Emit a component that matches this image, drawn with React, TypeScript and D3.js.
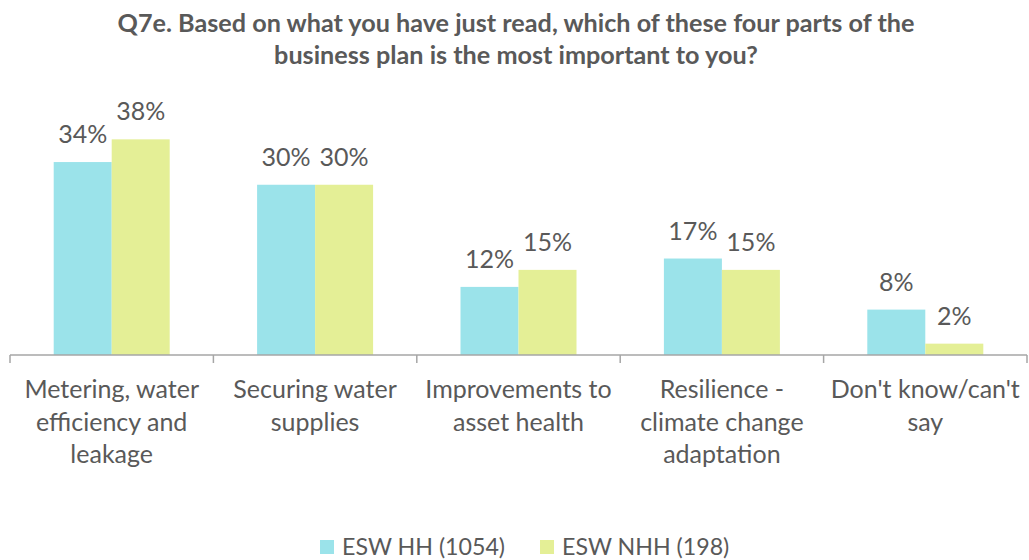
import React from "react";
import * as d3 from "d3";

const categories: string[][] = [
  ["Metering, water", "efficiency and", "leakage"],
  ["Securing water", "supplies"],
  ["Improvements to", "asset health"],
  ["Resilience -", "climate change", "adaptation"],
  ["Don't know/can't", "say"],
];
const seriesNames = ["ESW HH (1054)", "ESW NHH (198)"];
const hhValues = [34, 30, 12, 17, 8];
const nhhValues = [38, 30, 15, 15, 2];
const colors = ["#9BE3EA", "#E4EF96"];
const titleLines = [
  "Q7e. Based on what you have just read, which of these four parts of the",
  "business plan is the most important to you?",
];

const W = 1029;
const H = 560;
const FONT = "Lato, 'Open Sans', sans-serif";
const TEXT = "#595959";
const FS = 25;

export default function App() {
  const left = 10;
  const right = 1027;
  const baseY = 355;
  const x0 = d3.scaleBand<number>().domain(d3.range(categories.length)).range([left, right]).paddingInner(0).paddingOuter(0);
  const x1 = d3.scaleBand<number>().domain([0, 1]).range([0, 116]);
  const y = d3.scaleLinear().domain([0, 40]).range([baseY, baseY - 227]);
  const series = [hhValues, nhhValues];
  const bw = x0.bandwidth();

  return (
    <svg width={W} height={H} style={{ position: "absolute", left: 0, top: 0, background: "#fff" }} fontFamily={FONT}>
      {titleLines.map((t, i) => (
        <text key={i} x={516} y={32 + i * 32} textAnchor="middle" fontWeight="bold" fontSize={25.2} fill={TEXT}>
          {t}
        </text>
      ))}
      {categories.map((_, ci) => {
        const cx = (x0(ci) as number) + bw / 2;
        const start = cx - 58;
        return series.map((vals, si) => {
          const bx = start + (x1(si) as number);
          const v = vals[ci];
          return (
            <g key={`${ci}-${si}`}>
              <rect x={bx} y={y(v)} width={x1.bandwidth()} height={baseY - y(v)} fill={colors[si]} />
              <text x={bx + x1.bandwidth() / 2} y={y(v) - 19} textAnchor="middle" fontSize={FS} fill={TEXT}>
                {v}%
              </text>
            </g>
          );
        });
      })}
      <line x1={left} x2={right} y1={baseY} y2={baseY} stroke="#A6A6A6" strokeWidth={1.5} />
      {d3.range(categories.length + 1).map((i) => {
        const tx = i === categories.length ? right : (x0(i) as number);
        return <line key={i} x1={tx} x2={tx} y1={baseY} y2={baseY + 8} stroke="#A6A6A6" strokeWidth={1.5} />;
      })}
      {categories.map((lines, ci) => {
        const cx = (x0(ci) as number) + bw / 2;
        return (
          <text key={ci} textAnchor="middle" fontSize={FS} fill={TEXT}>
            {lines.map((l, li) => (
              <tspan key={li} x={cx} y={398 + li * 32.5}>
                {l}
              </tspan>
            ))}
          </text>
        );
      })}
      {seriesNames.map((n, i) => {
        const lx = [320, 540][i];
        return (
          <g key={n}>
            <rect x={lx} y={540} width={14} height={14} fill={colors[i]} />
            <text x={lx + 22} y={555} fontSize={23.2} fill={TEXT}>
              {n}
            </text>
          </g>
        );
      })}
    </svg>
  );
}
